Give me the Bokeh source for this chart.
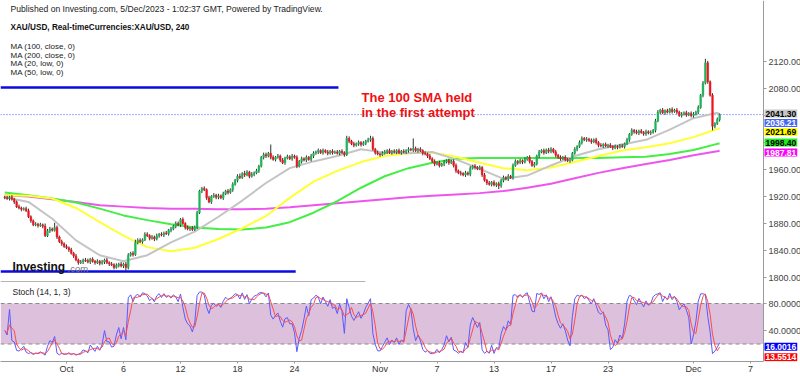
import numpy as np
import pandas as pd
from bokeh.plotting import figure
from bokeh.models import Range1d, FixedTicker, Label, BoxAnnotation, NumeralTickFormatter
from bokeh.embed import file_html
from bokeh.resources import INLINE

# ---------------- data ----------------
FIRST_BAR = "2023-09-25 16:00"      # 4h bars, weekends skipped
FIRST_OPEN = 1919.0
CLOSES = [
    1918, 1917, 1919, 1916, 1912, 1905, 1903, 1901, 1902, 1899,
    1890, 1884, 1878, 1879, 1877, 1878, 1876, 1862, 1869, 1872,
    1870, 1874, 1860, 1853, 1850, 1846, 1844, 1841, 1836, 1832,
    1826, 1822, 1823, 1826, 1825, 1823, 1827, 1824, 1822, 1824,
    1821, 1823, 1826, 1822, 1820, 1819, 1815, 1818, 1820, 1817,
    1820, 1815, 1833, 1836, 1834, 1852, 1855, 1853, 1856, 1864,
    1862, 1858, 1860, 1857, 1862, 1864, 1863, 1866, 1865, 1870,
    1872, 1876, 1880, 1878, 1886, 1880, 1874, 1872, 1873, 1871,
    1875, 1896, 1928, 1932, 1930, 1918, 1912, 1920, 1922, 1919,
    1921, 1918, 1924, 1928, 1926, 1930, 1938, 1944, 1950, 1948,
    1954, 1952, 1956, 1950, 1953, 1955, 1958, 1965, 1978, 1982,
    1980, 1984, 1978, 1975, 1978, 1980, 1974, 1970, 1977, 1979,
    1976, 1980, 1978, 1965, 1972, 1976, 1974, 1978, 1975, 1980,
    1984, 1986, 1988, 1985, 1988, 1986, 1984, 1987, 1985, 1986,
    1984, 1987, 1985, 1982, 2006, 2002, 1998, 1996, 1998, 2000,
    1997, 1999, 2002, 2004, 2006, 1990, 1985, 1983, 1982, 1984,
    1986, 1988, 1985, 1987, 1986, 1988, 1985, 1987, 1986, 1988,
    1990, 1989, 1991, 1988, 1990, 1988, 1984, 1983, 1980, 1976,
    1972, 1968, 1970, 1966, 1968, 1971, 1973, 1970, 1972, 1966,
    1958, 1955, 1954, 1952, 1955, 1953, 1962, 1965, 1963, 1961,
    1963, 1952, 1944, 1940, 1938, 1941, 1937, 1939, 1936, 1944,
    1948, 1946, 1950, 1948, 1966, 1972, 1970, 1973, 1971, 1975,
    1978, 1972, 1966, 1968, 1980, 1986, 1988, 1985, 1989, 1987,
    1990, 1986, 1981, 1978, 1976, 1978, 1975, 1973, 1974, 1984,
    1990, 1994, 2000, 2006, 2004, 2005, 2003, 2001, 2004, 2000,
    1996, 1995, 1997, 1995, 1996, 1994, 1992, 1994, 1993, 1995,
    1994, 1998, 2004, 2012, 2018, 2016, 2014, 2017, 2015, 2013,
    2016, 2014, 2015, 2018, 2032, 2045, 2048, 2044, 2047, 2045,
    2049, 2046, 2048, 2045, 2040, 2042, 2044, 2041, 2043, 2040,
    2042, 2045, 2052, 2070, 2088, 2118, 2090, 2070, 2024, 2028,
    2034, 2041,
]
UP_WICK = [
    2, 3, 2, 3, 2, 2, 3, 2, 2, 3,  3, 2, 2, 3, 2, 3, 2, 4, 3, 3,
    2, 7, 3, 2, 3, 2, 3, 2, 3, 2,  3, 2, 3, 2, 3, 3, 2, 3, 2, 3,
    2, 3, 2, 3, 2, 3, 2, 3, 2, 3,  2, 3, 3, 2, 3, 4, 3, 3, 2, 3,
    3, 2, 3, 2, 3, 2, 3, 2, 3, 2,  3, 2, 3, 3, 2, 3, 2, 3, 2, 3,
    2, 3, 2, 2, 3, 2, 3, 2, 3, 2,  3, 2, 3, 2, 3, 2, 3, 2, 3, 4,
    2, 4, 3, 2, 3, 2, 3, 2, 2, 3,  3, 2, 13, 3, 2, 3, 2, 3, 2, 3,
    2, 3, 2, 3, 2, 3, 2, 3, 2, 3,  3, 2, 3, 2, 3, 2, 3, 2, 3, 2,
    3, 2, 3, 2, 4, 3, 2, 3, 2, 3,  2, 3, 2, 3, 4, 3, 2, 3, 2, 3,
    3, 2, 3, 2, 3, 2, 3, 2, 3, 2,  3, 2, 15, 3, 2, 3, 2, 3, 2, 3,
    2, 3, 2, 3, 2, 3, 2, 3, 2, 3,  3, 2, 3, 2, 3, 2, 3, 2, 3, 2,
    3, 2, 3, 2, 3, 2, 3, 2, 3, 2,  3, 2, 3, 2, 3, 3, 2, 3, 2, 3,
    2, 3, 2, 3, 2, 3, 2, 3, 2, 3,  3, 2, 3, 2, 3, 2, 3, 2, 3, 2,
    3, 2, 3, 3, 2, 3, 2, 3, 2, 3,  2, 3, 2, 3, 2, 3, 2, 3, 2, 3,
    3, 2, 3, 2, 3, 2, 3, 2, 3, 2,  3, 2, 3, 2, 3, 3, 2, 3, 2, 3,
    2, 3, 2, 3, 2, 3, 2, 3, 2, 3,  3, 2, 3, 2, 3, 6, 3, 2, 3, 2,
    3, 2,
]
DN_WICK = [
    2, 2, 3, 2, 3, 2, 2, 3, 2, 2,  2, 3, 2, 2, 3, 2, 3, 2, 2, 3,
    2, 2, 3, 2, 3, 2, 2, 3, 2, 3,  2, 3, 2, 3, 2, 2, 3, 2, 3, 2,
    3, 2, 3, 2, 3, 2, 3, 2, 3, 2,  3, 5, 3, 2, 3, 2, 3, 2, 3, 2,
    2, 3, 2, 3, 2, 3, 2, 3, 2, 3,  3, 2, 3, 2, 3, 2, 3, 2, 3, 2,
    2, 3, 2, 3, 2, 3, 2, 3, 2, 3,  3, 2, 3, 2, 3, 2, 3, 2, 3, 2,
    2, 3, 2, 3, 2, 3, 2, 3, 2, 3,  3, 2, 3, 2, 3, 2, 3, 2, 3, 2,
    2, 3, 2, 3, 2, 3, 2, 3, 2, 3,  3, 2, 3, 2, 3, 2, 3, 2, 3, 2,
    2, 3, 2, 3, 2, 3, 2, 3, 2, 3,  3, 2, 3, 2, 3, 2, 3, 2, 3, 2,
    2, 3, 2, 3, 2, 3, 2, 3, 2, 3,  3, 2, 3, 2, 3, 2, 3, 2, 3, 2,
    2, 3, 2, 3, 2, 3, 2, 3, 2, 3,  3, 2, 3, 2, 3, 2, 3, 2, 3, 2,
    2, 3, 2, 3, 2, 3, 2, 3, 5, 3,  3, 2, 3, 2, 3, 2, 3, 2, 3, 2,
    2, 3, 2, 3, 2, 3, 2, 3, 2, 3,  3, 2, 3, 2, 3, 2, 3, 2, 3, 2,
    2, 3, 2, 3, 2, 3, 2, 3, 2, 3,  3, 2, 3, 2, 3, 2, 3, 2, 3, 2,
    2, 3, 2, 3, 2, 3, 2, 3, 2, 3,  3, 2, 3, 2, 3, 2, 3, 2, 3, 2,
    2, 3, 2, 3, 2, 3, 2, 3, 2, 3,  3, 2, 3, 2, 3, 2, 3, 2, 6, 3,
    2, 3,
]

MA_BARS = [0, 10, 20, 30, 40, 50, 60, 70, 80, 90, 100, 110, 120, 130, 140, 150,
           160, 170, 180, 190, 200, 210, 220, 230, 240, 250, 260, 270, 280, 290, 300, 301]
MA20_LOW = [1919, 1912, 1887, 1855, 1833, 1824, 1833, 1852, 1868, 1890, 1914, 1940, 1962, 1972, 1980, 1990,
            1985, 1984, 1986, 1975, 1961, 1946, 1951, 1966, 1980, 1990, 1997, 2004, 2019, 2036, 2044, 2042]
MA50_LOW = [1922, 1921, 1917, 1903, 1882, 1862, 1845, 1839, 1844, 1857, 1873, 1891, 1918, 1942, 1958, 1971,
            1980, 1984, 1985, 1979, 1970, 1962, 1959, 1963, 1971, 1980, 1988, 1993, 1999, 2008, 2020, 2021.7]
MA100_CLOSE = [1926, 1922, 1917, 1911, 1902, 1892, 1885, 1879, 1874, 1872, 1871, 1874, 1882, 1896, 1913, 1933,
               1950, 1962, 1970, 1976, 1977, 1977, 1977, 1977, 1977, 1977, 1978, 1979, 1983, 1989, 1998, 1998.4]
MA200_CLOSE = [1922, 1920, 1916, 1912, 1907, 1905, 1903, 1902, 1902, 1901, 1901, 1902, 1904, 1907, 1910, 1913,
               1916, 1919, 1921, 1923, 1925, 1928, 1933, 1939, 1947, 1955, 1962, 1968, 1974, 1981, 1987, 1987.8]

TICK_LABELS = ["Oct", "6", "12", "18", "24", "Nov", "7", "13", "17", "23", "Dec", "7"]
TICK_DATES = ["2023-10-02", "2023-10-06", "2023-10-12", "2023-10-18", "2023-10-24", "2023-11-01",
              "2023-11-07", "2023-11-13", "2023-11-17", "2023-11-23", "2023-12-01", "2023-12-07"]
PRICE_TICKS = [1800, 1840, 1880, 1920, 1960, 2000, 2040, 2080, 2120]
STOCH_TICKS = [40, 80]

LAST_PRICE = 2041.30
VALUE_LABELS = ["2041.30", "2036.21", "2021.69", "1998.40", "1987.81"]
VALUE_LEVELS = [2041.30, 2036.21, 2021.69, 1998.40, 1987.81]
STOCH_LABELS = ["16.0016", "13.5514"]
STOCH_LEVELS = [16.0016, 13.5514]

# drawn horizontal levels: end bar and price
LEVEL_END_BAR = [140.5, 122.5]
LEVEL_PRICE = [2081.5, 1809.0]

HEADER = ["Published on Investing.com, 5/Dec/2023 - 1:02:37 GMT, Powered by TradingView.",
          "XAU/USD, Real-timeCurrencies:XAU/USD, 240"]
LEGEND = ["MA (100, close, 0)", "MA (200, close, 0)", "MA (20, low, 0)", "MA (50, low, 0)"]
NOTE = ["The 100 SMA held", "in the first attempt"]

# ---------------- geometry (page px) ----------------
W, H = 800, 376
FRAME_T, FRAME_B = 0.0, 361.0
PX_PER_BAR, BAR0_X = 2.375, 4.25
AXIS_PX = 763.0
def bar_at(x):
    return (x - BAR0_X) / PX_PER_BAR
PX_PER_USD = 0.675
REF_PRICE, REF_Y = 2120.0, 61.0
def price_at(y):
    return REF_PRICE - (y - REF_Y) / PX_PER_USD
def price_y(v):
    return REF_Y + (REF_PRICE - v) * PX_PER_USD
ST80_Y, ST20_Y = 303.0, 343.5
ST_SCALE = (ST20_Y - ST80_Y) / 60.0
def stoch_at(y):
    return 80.0 - (y - ST80_Y) / ST_SCALE
def stoch_y(v):
    return ST80_Y - (v - 80.0) * ST_SCALE

X_START, X_END = bar_at(0), bar_at(W)
AXIS_X = bar_at(AXIS_PX)
Y_START, Y_END = price_at(FRAME_B), price_at(FRAME_T)

FONT = "Liberation Sans"

# ---------------- derived series ----------------
n = len(CLOSES)
idx = np.arange(n)
c = np.array(CLOSES, dtype=float)
o = np.concatenate([[FIRST_OPEN], c[:-1]])
hi = np.maximum(o, c) + np.array(UP_WICK)
lo = np.minimum(o, c) - np.array(DN_WICK)
top = np.maximum(o, c)
bot = np.minimum(o, c)
bot = np.where(top - bot < 0.8, top - 0.8, bot)
col = np.where(c >= o, "#1fb45a", "#f0141e")

k = np.zeros(n)
for i in range(n):
    s = max(0, i - 13)
    hh, ll = hi[s:i + 1].max(), lo[s:i + 1].min()
    k[i] = 100.0 * (c[i] - ll) / (hh - ll) if hh > ll else 50.0
d = pd.Series(k).rolling(3, min_periods=1).mean().to_numpy()

days = pd.bdate_range("2023-09-25", "2023-12-08")
times = [dd + pd.Timedelta(hours=h) for dd in days for h in range(0, 24, 4)]
times = [t for t in times if t >= pd.Timestamp(FIRST_BAR)]
day_of = [t.strftime("%Y-%m-%d") for t in times]
tick_idx = [day_of.index(dt) for dt in TICK_DATES]

# ---------------- figure ----------------
p = figure(width=W, height=H, x_range=Range1d(X_START, X_END), y_range=Range1d(Y_START, Y_END),
           y_axis_location="right", output_backend="svg", toolbar_location=None,
           min_border_left=0, min_border_top=0, min_border_right=0, min_border_bottom=0,
           outline_line_color=None, background_fill_color="white", border_fill_color="white")
p.extra_y_ranges = {"stoch": Range1d(stoch_at(FRAME_B), stoch_at(FRAME_T))}
p.grid.visible = False

# stochastic panel background and levels
p.add_layout(BoxAnnotation(bottom=20, top=80, right=AXIS_X, y_range_name="stoch", fill_color="#dcc0dc",
                           fill_alpha=1.0, line_color=None, level="underlay"))
p.segment(x0=[X_START, X_START], y0=[80, 20], x1=[AXIS_X, AXIS_X], y1=[80, 20], y_range_name="stoch",
          line_color="#8a8a8a", line_dash="4 3", line_width=1)
p.line(idx, k, y_range_name="stoch", line_color="#5a5aff", line_width=1)
p.line(idx, d, y_range_name="stoch", line_color="#ff4a4a", line_width=1)

# panel divider
p.segment(x0=[X_START], y0=[price_at(281)], x1=[bar_at(365)], y1=[price_at(281)],
          line_color="#b4b4b4", line_width=1)

# last price line
p.segment(x0=[X_START], y0=[LAST_PRICE], x1=[AXIS_X], y1=[LAST_PRICE],
          line_color="#3a5cff", line_dash="1 2", line_width=1)

# drawn blue levels
p.segment(x0=[X_START] * len(LEVEL_PRICE), y0=LEVEL_PRICE, x1=LEVEL_END_BAR, y1=LEVEL_PRICE,
          line_color="#0a0ae6", line_width=2.5)

# moving averages
p.line(MA_BARS, MA200_CLOSE, line_color="#ee55ee", line_width=2)
p.line(MA_BARS, MA100_CLOSE, line_color="#44ee44", line_width=2)
p.line(MA_BARS, MA50_LOW, line_color="#ffff33", line_width=2)
p.line(MA_BARS, MA20_LOW, line_color="#c4c4c4", line_width=2)

# candles
p.segment(x0=idx, y0=lo, x1=idx, y1=hi, line_color="#303030", line_width=1)
p.vbar(x=idx, width=0.72, top=top, bottom=bot, fill_color=col, line_color=col, line_width=0.5)

# price axis (drawn at the right edge of the chart area)
ya = p.yaxis[0]
ya.fixed_location = AXIS_X
stoch_prices = [price_at(stoch_y(v)) for v in STOCH_TICKS]
ya.ticker = FixedTicker(ticks=PRICE_TICKS + stoch_prices)
ya.formatter = NumeralTickFormatter(format="0.00")
ya.major_label_overrides = {**{sp: "%.4f" % v for sp, v in zip(stoch_prices, STOCH_TICKS)},
                            **{v: "" for v in PRICE_TICKS if any(abs(v - lv) < 4 for lv in VALUE_LEVELS)}}
ya.axis_line_color = "#9a9a9a"
ya.major_tick_line_color = "#9a9a9a"
ya.major_tick_out = 3
ya.major_tick_in = 0
ya.minor_tick_line_color = None
ya.major_label_standoff = 2
ya.major_label_text_font = FONT
ya.major_label_text_font_size = "9px"
ya.major_label_text_color = "#444444"

xa = p.xaxis[0]
xa.ticker = FixedTicker(ticks=tick_idx)
xa.bounds = (X_START, AXIS_X)
xa.major_label_overrides = {i: lab for i, lab in zip(tick_idx, TICK_LABELS)}
xa.axis_line_color = "#9a9a9a"
xa.major_tick_line_color = "#9a9a9a"
xa.major_tick_out = 2
xa.major_tick_in = 0
xa.minor_tick_line_color = None
xa.major_label_standoff = 0
xa.major_label_text_font = FONT
xa.major_label_text_font_size = "9px"
xa.major_label_text_color = "#333333"

# value boxes on the price scale (stacked so they do not overlap)
box_bg = ["#c8c8c8", "#4766f0", "#ffff00", "#22ee22", "#ff00ff"]
box_fg = ["#000000", "#ffffff", "#000000", "#000000", "#ffffff"]
box_centre_px = [113.0, 122.5, 131.5, 142.0, 152.0]
for txt, lv, bg, fg, cy in zip(VALUE_LABELS, VALUE_LEVELS, box_bg, box_fg, box_centre_px):
    p.add_layout(Label(x=AXIS_X, y=lv, x_offset=1, y_offset=price_y(lv) - cy, text=txt, text_font=FONT,
                       text_font_size="8.5px", text_font_style="bold", text_color=fg,
                       text_baseline="middle", text_align="left", background_fill_color=bg,
                       padding=1, level="overlay"))
for txt, lv, bg, dy in zip(STOCH_LABELS, STOCH_LEVELS, ["#0000ff", "#ff0000"], [0, -9]):
    p.add_layout(Label(x=AXIS_X, y=lv, y_range_name="stoch", x_offset=1, y_offset=dy, text=txt,
                       text_font=FONT, text_font_size="8.5px", text_font_style="bold", text_color="#ffffff",
                       text_baseline="middle", text_align="left", background_fill_color=bg,
                       padding=1, level="overlay"))

# header texts
def put(text, page_x, page_y, size="8px", style="normal", color="#222222"):
    p.add_layout(Label(x=bar_at(page_x), y=price_at(page_y), text=text, text_font=FONT,
                       text_font_size=size, text_font_style=style, text_color=color,
                       text_baseline="middle", text_align="left"))

put(HEADER[0], 10, 8, size="8.6px")
put(HEADER[1], 10, 27, size="8.2px", style="bold", color="#111111")
for j, t in enumerate(LEGEND):
    put(t, 10, 46 + j * 8.5, size="8px")
put("Stoch (14, 1, 3)", 12, 291, size="8.5px")
put("Investing", 12, 266, size="12px", style="bold", color="#111111")
put(".com", 67, 268, size="9.5px", color="#777777")

# annotation
for j, t in enumerate(NOTE):
    p.add_layout(Label(x=bar_at(361), y=price_at(97 + j * 15), text=t, text_font=FONT, text_font_size="13px",
                       text_font_style="bold", text_color="#ee1111", text_baseline="middle",
                       text_align="left"))

open("out.html", "w").write(file_html(p, INLINE))
